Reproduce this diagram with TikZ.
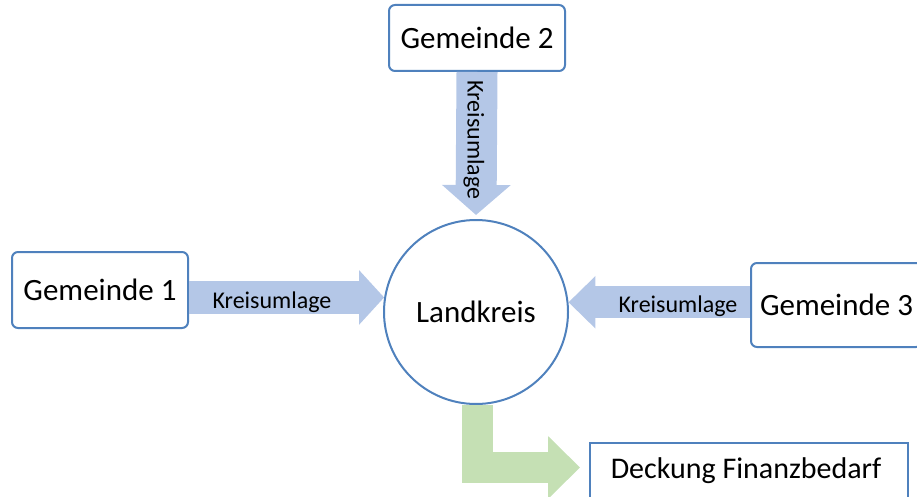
\documentclass[tikz,border=0pt]{standalone}
\usepackage{fontspec}
\setmainfont{Carlito}
\usetikzlibrary{arrows.meta}
\definecolor{rahmen}{RGB}{79,129,189}
\definecolor{umlage}{RGB}{180,199,231}
\definecolor{bedarf}{RGB}{197,224,180}

\begin{document}
\begin{tikzpicture}[x=1pt,y=-1pt,
	gemeinde/.style={draw=rahmen, line width=2pt, rounded corners=6pt, fill=white, inner sep=0pt, minimum width=176pt, font=\fontsize{31}{36}\selectfont},
	pfeil/.style={umlage, line width=#1},
	lbl/.style={font=\fontsize{24}{28}\selectfont, inner sep=0pt}]
\useasboundingbox (0,0) rectangle (917,497);

\path (100,290) node[gemeinde, minimum height=76pt] (g1) {Gemeinde 1};
\path (477,38) node[gemeinde, minimum height=66pt] (g2) {Gemeinde 2};
\path (750,305) node[gemeinde, anchor=west, minimum width=0pt, inner xsep=9pt, minimum height=84pt] (g3) {Gemeinde 3};
\path (476,312) node[circle, draw=rahmen, line width=2pt, fill=white, minimum size=184pt, font=\fontsize{31}{36}\selectfont] (lk) {Landkreis};
\path (589,442) node[anchor=north west, draw=rahmen, line width=1.5pt, inner xsep=21pt, inner ysep=6pt, text height=30pt, text depth=30pt, font=\fontsize{30}{36}\selectfont] (fin) {\makebox[276pt][l]{Deckung Finanzbedarf}};
\coordinate (ziel) at (580,467.5);

\draw[pfeil=33pt, -{Triangle[length=25pt,width=53pt]}] (g1.east |- lk.171) -- (lk.171);
\draw[pfeil=41pt, -{Triangle[length=30pt,width=67pt]}] (g2.south) -- ([yshift=4pt]lk.north);
\draw[pfeil=32pt, -{Triangle[length=27pt,width=51pt]}] (g3.west |- lk.6) -- (lk.6);
\draw[bedarf, line width=31pt, line join=miter, -{Triangle[length=32pt,width=61pt]}] ([xshift=1.5pt]lk.south) |- (ziel);

\path (272,302) node[lbl] (u1) {Kreisumlage};
\path (474,140) node[lbl, rotate=-90] (u2) {Kreisumlage};
\path (678,306) node[lbl] (u3) {Kreisumlage};

\end{tikzpicture}
\end{document}
